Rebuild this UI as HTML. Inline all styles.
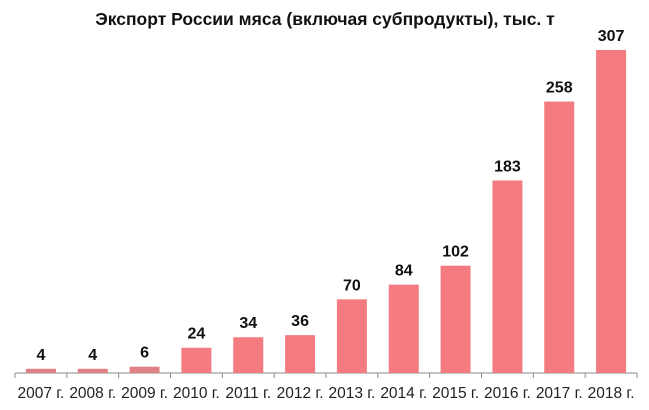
<!DOCTYPE html>
<html><head><meta charset="utf-8"><style>
body{margin:0;background:#fff;}
svg{display:block;font-family:"Liberation Sans",Arial,sans-serif;}
</style></head><body>
<svg width="649" height="410" xmlns="http://www.w3.org/2000/svg">
<text x="325" y="25" text-anchor="middle" font-size="17.5" font-weight="bold" fill="#111">Экспорт России мяса (включая субпродукты), тыс. т</text>
<g id="plot"></g>
</svg>
<script>
const categories=["2007 г.","2008 г.","2009 г.","2010 г.","2011 г.","2012 г.","2013 г.","2014 г.","2015 г.","2016 г.","2017 г.","2018 г."];
const values=[4,4,6,24,34,36,70,84,102,183,258,307];
const valueLabels=["4","4","6","24","34","36","70","84","102","183","258","307"];
const x0=15,x1=637,base=373,scale=323/307;
const step=(x1-x0)/categories.length;
const xC=i=>x0+step*(i+0.5);
const yV=v=>base-v*scale;
const NS="http://www.w3.org/2000/svg";
const g=document.getElementById('plot');
function mk(t,a){const e=document.createElementNS(NS,t);for(const k in a)e.setAttribute(k,a[k]);g.appendChild(e);return e;}
const ax=mk('line',{x1:x0,x2:x1,y1:base,y2:base,stroke:'#888','stroke-width':1});


for(let i=0;i<=categories.length;i++){
 const t=mk('line',{x1:x0+step*i,x2:x0+step*i,y1:base,y2:base+5,stroke:'#888'});
 
 
}
values.forEach((v,i)=>{
 const b=mk('rect',{x:xC(i)-15,y:yV(v),width:30,height:base-yV(v),fill:v<10?'#E08285':'#F47C80'});
 
 
 const l=mk('text',{x:xC(i),y:yV(v)-9,'text-anchor':'middle','font-size':16,'font-weight':'bold',fill:'#111'});
 l.textContent=valueLabels[i];
 
 
 const c=mk('text',{x:xC(i),y:398,'text-anchor':'middle','font-size':15.5,fill:'#222'});
 c.textContent=categories[i];
 
 
});
</script>
</body></html>
